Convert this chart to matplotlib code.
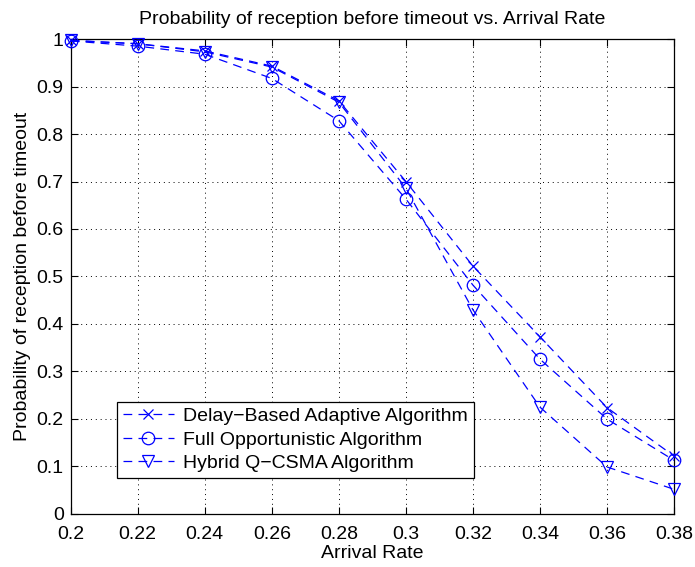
import numpy as np
import matplotlib.pyplot as plt

# Arrival rates and reception probabilities for the three schemes
arrival_rate = [0.20, 0.22, 0.24, 0.26, 0.28, 0.30, 0.32, 0.34, 0.36, 0.38]
delay_based = [0.997, 0.990, 0.975, 0.943, 0.870, 0.700, 0.522, 0.373, 0.224, 0.122]
full_opportunistic = [0.996, 0.985, 0.968, 0.917, 0.828, 0.663, 0.482, 0.326, 0.200, 0.113]
hybrid_qcsma = [0.997, 0.990, 0.973, 0.941, 0.867, 0.686, 0.430, 0.225, 0.099, 0.052]

series_labels = [
    "Delay\u2212Based Adaptive Algorithm",
    "Full Opportunistic Algorithm",
    "Hybrid Q\u2212CSMA Algorithm",
]

x_ticks = np.round(np.arange(0.20, 0.381, 0.02), 2)
x_tick_labels = ["0.2", "0.22", "0.24", "0.26", "0.28", "0.3", "0.32", "0.34", "0.36", "0.38"]
y_ticks = np.round(np.arange(0.0, 1.01, 0.1), 1)
y_tick_labels = ["0", "0.1", "0.2", "0.3", "0.4", "0.5", "0.6", "0.7", "0.8", "0.9", "1"]

plt.rcParams.update({
    "font.family": ["Liberation Sans", "DejaVu Sans"],
    "font.size": 14,
    "axes.linewidth": 0.9,
})

fig = plt.figure(figsize=(6.95, 5.67), dpi=100)
ax = fig.add_axes([0.1017, 0.0935, 0.8681, 0.8377])

markers = ["x", "o", "v"]
for y, m, lab in zip([delay_based, full_opportunistic, hybrid_qcsma], markers, series_labels):
    ax.plot(arrival_rate, y, linestyle=(0, (7, 5)), color="blue", linewidth=0.9,
            marker=m, markersize=9 if m != "x" else 7, markerfacecolor="none",
            markeredgecolor="blue", markeredgewidth=0.9, label=lab, clip_on=False,
            zorder=3)

ax.set_xlim(0.2, 0.38)
ax.set_ylim(0, 1)
ax.set_xticks(x_ticks)
ax.set_xticklabels(x_tick_labels)
ax.set_yticks(y_ticks)
ax.set_yticklabels(y_tick_labels)
ax.tick_params(direction="in", length=5, width=0.8, top=True, right=True)
ax.tick_params(axis="x", pad=9)
ax.tick_params(axis="y", pad=5)
ax.grid(True, linestyle=(0, (1, 4)), color="black", linewidth=0.7)

ax.set_title("Probability of reception before timeout vs. Arrival Rate", fontsize=14, pad=11)
ax.set_xlabel("Arrival Rate", labelpad=1)
ax.set_ylabel("Probability of reception before timeout", labelpad=4)

leg = ax.legend(loc="lower left", bbox_to_anchor=(0.077, 0.076), fancybox=False,
                edgecolor="black", framealpha=1, handlelength=2.6, borderpad=0.3,
                labelspacing=0.3, handletextpad=0.5, borderaxespad=0)
leg.get_frame().set_linewidth(0.9)

fig.savefig("out.png", dpi=100, facecolor="white")
plt.close(fig)
